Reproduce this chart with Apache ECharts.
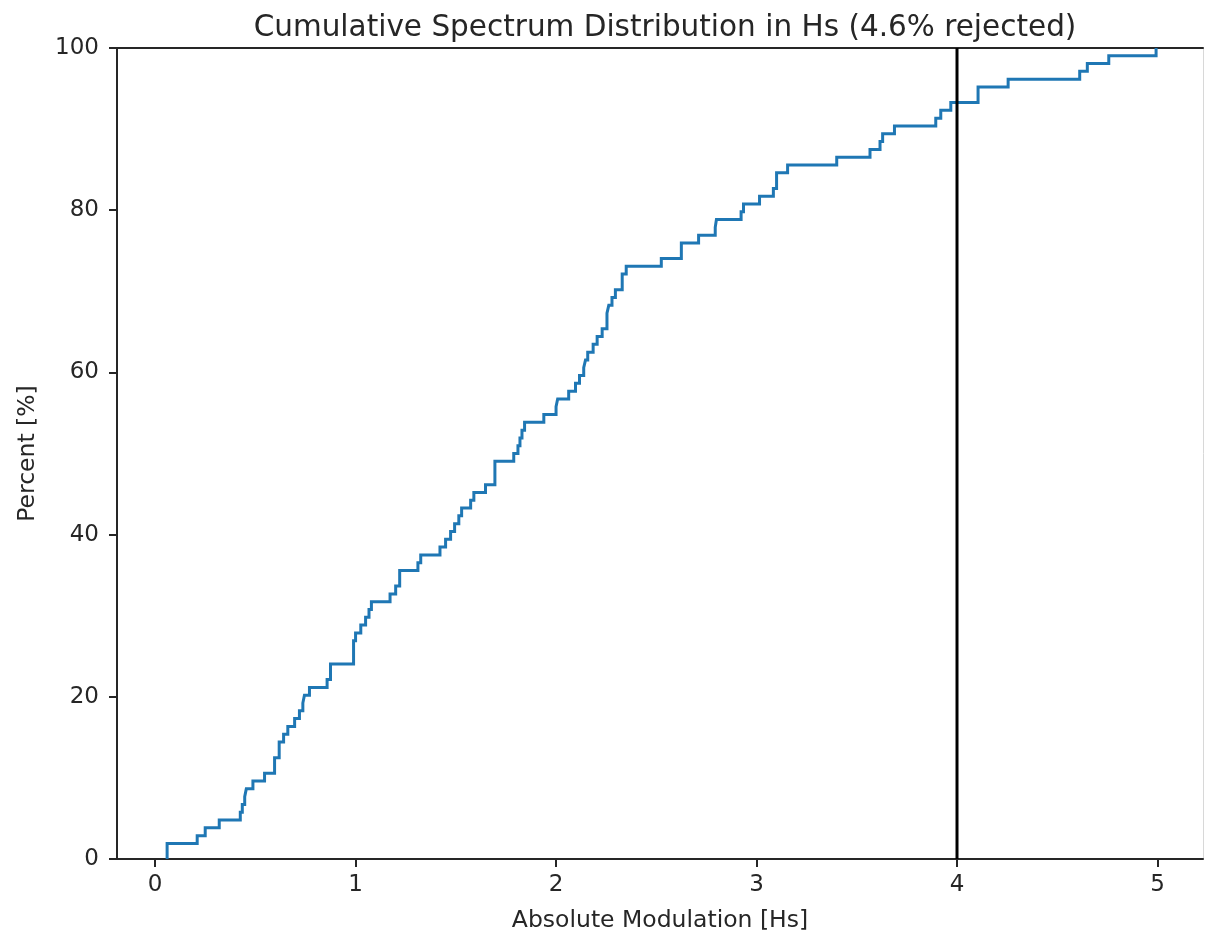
<!DOCTYPE html>
<html>
<head>
<meta charset="utf-8">
<script src="https://cdn.jsdelivr.net/npm/echarts@6/dist/echarts.min.js"></script>
<style>
  html, body { margin: 0; padding: 0; background: #ffffff; }
  #chart { width: 1205px; height: 938px; }
</style>
</head>
<body>
<div id="chart"></div>
<script>
// Empirical CDF of absolute modulation: jump positions [Hs] and cumulative percent after each jump
const stepX = [
  0.06, 0.06, 0.21, 0.25, 0.32, 0.425, 0.435, 0.447, 0.455, 0.488,
  0.546, 0.596, 0.619, 0.641, 0.662, 0.696, 0.72, 0.737, 0.745, 0.77,
  0.858, 0.875, 0.99, 1.0, 1.026, 1.05, 1.067, 1.079, 1.172, 1.2,
  1.22, 1.311, 1.325, 1.421, 1.449, 1.474, 1.494, 1.515, 1.529, 1.574,
  1.59, 1.648, 1.695, 1.789, 1.81, 1.82, 1.83, 1.843, 1.939, 2.0,
  2.008, 2.063, 2.097, 2.117, 2.138, 2.147, 2.158, 2.185, 2.205, 2.23,
  2.254, 2.263, 2.279, 2.296, 2.33, 2.35, 2.525, 2.625, 2.711, 2.794,
  2.8, 2.923, 2.935, 3.015, 3.084, 3.1, 3.155, 3.4, 3.566, 3.616,
  3.629, 3.688, 3.894, 3.919, 3.969, 4.105, 4.255, 4.612, 4.65, 4.757,
  4.993
];
const cumulativePct = [
  0, 1.92, 2.88, 3.85, 4.81, 5.77, 6.73, 7.69, 8.65, 9.62,
  10.58, 12.50, 14.42, 15.38, 16.35, 17.31, 18.27, 19.23, 20.19, 21.15,
  22.12, 24.04, 26.92, 27.88, 28.85, 29.81, 30.77, 31.73, 32.69, 33.65,
  35.58, 36.54, 37.50, 38.46, 39.42, 40.38, 41.35, 42.31, 43.27, 44.23,
  45.19, 46.15, 49.04, 50.00, 50.96, 51.92, 52.88, 53.85, 54.81, 55.77,
  56.73, 57.69, 58.65, 59.62, 60.58, 61.54, 62.50, 63.46, 64.42, 65.38,
  67.31, 68.27, 69.23, 70.19, 72.12, 73.08, 74.04, 75.96, 76.92, 77.88,
  78.85, 79.81, 80.77, 81.73, 82.69, 84.62, 85.58, 86.54, 87.50, 88.46,
  89.42, 90.38, 91.35, 92.31, 93.27, 95.19, 96.15, 97.12, 98.08, 99.04,
  100
];
// Rejection threshold drawn as a vertical line
const thresholdX = 4;
const thresholdY = [0, 100];
// Axis ticks
const xTicks = [0, 1, 2, 3, 4, 5];
const yTicks = [0, 20, 40, 60, 80, 100];

const X_MIN = -0.19, X_MAX = 5.227;
const FONT = 'DejaVu Sans';
const INK = '#262626';

const chart = echarts.init(document.getElementById('chart'), null, { renderer: 'canvas' });

const frameAxisX = {
  type: 'value', min: X_MIN, max: X_MAX, position: 'top',
  axisLine: { show: true, onZero: false, lineStyle: { color: INK, width: 2 } },
  axisTick: { show: false }, axisLabel: { show: false }, splitLine: { show: false }
};
const frameAxisY = {
  type: 'value', min: 0, max: 100, position: 'right',
  axisLine: { show: true, onZero: false, lineStyle: { color: '#d8d8d8', width: 1 } },
  axisTick: { show: false }, axisLabel: { show: false }, splitLine: { show: false }
};

chart.setOption({
  animation: false,
  backgroundColor: '#ffffff',
  title: {
    text: 'Cumulative Spectrum Distribution in Hs (4.6% rejected)',
    left: 660, top: 8, textAlign: 'center',
    textStyle: { fontFamily: FONT, fontSize: 29.5, fontWeight: 'normal', color: INK }
  },
  grid: { left: 117, right: 2, top: 48, bottom: 78, containLabel: false },
  xAxis: [{
    type: 'value', min: X_MIN, max: X_MAX, position: 'bottom',
    name: 'Absolute Modulation [Hs]', nameLocation: 'middle', nameGap: 50,
    nameTextStyle: { fontFamily: FONT, fontSize: 23.5, color: INK },
    axisLine: { show: true, onZero: false, lineStyle: { color: INK, width: 2 } },
    axisTick: { show: true, length: 8, lineStyle: { color: INK, width: 2 }, customValues: xTicks },
    axisLabel: { fontFamily: FONT, fontSize: 23, color: INK, margin: 15, customValues: xTicks },
    splitLine: { show: false }
  }, frameAxisX],
  yAxis: [{
    type: 'value', min: 0, max: 100, interval: 20, position: 'left',
    name: 'Percent [%]', nameLocation: 'middle', nameGap: 77, nameRotate: 90,
    nameTextStyle: { fontFamily: FONT, fontSize: 23.5, color: INK },
    axisLine: { show: true, onZero: false, lineStyle: { color: INK, width: 2 } },
    axisTick: { show: true, length: 8, lineStyle: { color: INK, width: 2 }, customValues: yTicks },
    axisLabel: { fontFamily: FONT, fontSize: 23, color: INK, margin: 18, customValues: yTicks },
    splitLine: { show: false }
  }, frameAxisY],
  series: [{
    name: 'CDF', type: 'line', step: 'end',
    xAxisIndex: 0, yAxisIndex: 0,
    data: stepX.map((x, i) => [x, cumulativePct[i]]),
    showSymbol: false, symbol: 'none',
    lineStyle: { color: '#1f77b4', width: 3, join: 'miter', cap: 'butt' },
    z: 3
  }, {
    name: 'Threshold', type: 'line',
    xAxisIndex: 0, yAxisIndex: 0,
    data: thresholdY.map(y => [thresholdX, y]),
    showSymbol: false, symbol: 'none',
    lineStyle: { color: '#000000', width: 3 },
    z: 4
  }]
});
</script>
</body>
</html>
